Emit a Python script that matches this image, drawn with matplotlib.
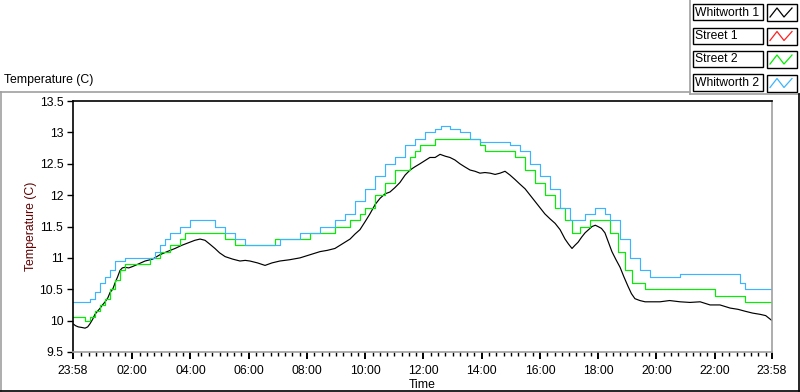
"""Daily temperature trace, four sensors, LabVIEW-style panel."""

import matplotlib
matplotlib.use("Agg")
import matplotlib.pyplot as plt
from matplotlib.lines import Line2D
from matplotlib.patches import Rectangle
import numpy as np

plt.rcParams["font.family"] = ["Liberation Sans", "DejaVu Sans"]
plt.rcParams["font.size"] = 8.5

# clock hours (start 23:58 of the previous day = -0.033) and temperatures (C)
w1_hours = [-0.033, 0.05, 0.15, 0.28, 0.38, 0.47, 0.55, 0.64, 0.72, 0.81, 0.9,
            0.98, 1.07, 1.16, 1.24, 1.33, 1.41, 1.5, 1.58, 1.66, 1.75, 1.88,
            2.0, 2.2, 2.44, 2.7, 2.95, 3.2, 3.47, 3.7, 3.98, 4.15, 4.33, 4.5,
            4.66, 4.84, 5.0, 5.19, 5.45, 5.7, 5.88, 6.04, 6.3, 6.56, 6.8,
            7.07, 7.4, 7.76, 8.1, 8.45, 8.7, 8.96, 9.2, 9.48, 9.65, 9.82,
            10.0, 10.16, 10.34, 10.51, 10.68, 10.85, 11.02, 11.19, 11.37,
            11.54, 11.7, 11.88, 12.05, 12.22, 12.4, 12.57, 12.75, 12.91, 13.08,
            13.25, 13.42, 13.6, 13.77, 13.94, 14.11, 14.29, 14.46, 14.63, 14.8,
            14.97, 15.14, 15.3, 15.49, 15.66, 15.83, 16.0, 16.17, 16.35, 16.52,
            16.69, 16.86, 16.98, 17.1, 17.2, 17.31, 17.43, 17.55, 17.67, 17.79,
            17.9, 17.99, 18.11, 18.23, 18.35, 18.47, 18.6, 18.75, 18.88, 19.02,
            19.14, 19.26, 19.43, 19.61, 19.85, 20.12, 20.45, 20.81, 21.15,
            21.5, 21.84, 22.18, 22.53, 22.8, 23.04, 23.3, 23.56, 23.75, 23.967]
w1_temps = [9.95, 9.92, 9.9, 9.89, 9.88, 9.9, 9.95, 10.02, 10.1, 10.15, 10.2,
            10.25, 10.3, 10.36, 10.45, 10.5, 10.6, 10.7, 10.8, 10.84, 10.85,
            10.84, 10.86, 10.9, 10.95, 10.98, 11.05, 11.1, 11.15, 11.2, 11.25,
            11.28, 11.3, 11.28, 11.22, 11.15, 11.08, 11.02, 10.98, 10.95,
            10.96, 10.95, 10.92, 10.88, 10.92, 10.95, 10.97, 11.0, 11.05,
            11.1, 11.12, 11.15, 11.22, 11.3, 11.38, 11.45, 11.58, 11.7, 11.85,
            11.95, 12.02, 12.05, 12.12, 12.2, 12.32, 12.4, 12.45, 12.5, 12.55,
            12.6, 12.6, 12.65, 12.62, 12.6, 12.56, 12.5, 12.45, 12.4, 12.38,
            12.35, 12.36, 12.35, 12.33, 12.35, 12.38, 12.32, 12.25, 12.18,
            12.1, 12.0, 11.9, 11.8, 11.7, 11.62, 11.55, 11.45, 11.3, 11.22,
            11.15, 11.2, 11.25, 11.33, 11.4, 11.45, 11.5, 11.52, 11.5, 11.47,
            11.4, 11.25, 11.1, 10.98, 10.85, 10.7, 10.55, 10.43, 10.35, 10.32,
            10.3, 10.3, 10.3, 10.32, 10.3, 10.29, 10.3, 10.25, 10.25, 10.2,
            10.18, 10.15, 10.12, 10.1, 10.08, 10.0]

# Street 1 has no visible trace in the chart
s1_hours = []
s1_temps = []

s2_hours = [-0.033, 0.38, 0.55, 0.72, 0.9, 1.07, 1.24, 1.41, 1.58, 1.75, 2.61,
            2.95, 3.3, 3.64, 3.81, 5.19, 5.53, 6.9, 8.1, 8.96, 9.48, 9.82,
            10.0, 10.34, 10.68, 11.02, 11.54, 11.71, 11.88, 12.4, 13.94, 14.11,
            15.14, 15.49, 15.83, 16.17, 16.52, 16.86, 17.1, 17.38, 17.72, 18.4,
            18.68, 18.92, 19.16, 19.6, 22.0, 23.04, 23.967]
s2_temps = [10.05, 10.0, 10.05, 10.15, 10.25, 10.35, 10.5, 10.65, 10.8, 10.9,
            11.0, 11.1, 11.2, 11.3, 11.4, 11.3, 11.2, 11.3, 11.4, 11.5, 11.6,
            11.7, 11.8, 12.0, 12.2, 12.4, 12.6, 12.7, 12.8, 12.9, 12.8, 12.7,
            12.6, 12.4, 12.2, 12.0, 11.8, 11.6, 11.4, 11.5, 11.6, 11.4, 11.1,
            10.8, 10.6, 10.5, 10.4, 10.3, 10.3]

w2_hours = [-0.033, 0.55, 0.72, 0.9, 1.07, 1.24, 1.41, 1.75, 2.78, 2.95, 3.13,
            3.3, 3.64, 3.98, 4.84, 5.19, 5.53, 5.87, 7.07, 7.76, 8.45, 8.96,
            9.3, 9.65, 9.99, 10.34, 10.68, 11.02, 11.37, 11.71, 12.05, 12.4,
            12.6, 12.91, 13.25, 13.6, 13.94, 14.97, 15.3, 15.66, 16.0, 16.35,
            16.69, 17.03, 17.55, 17.89, 18.23, 18.41, 18.75, 19.09, 19.43,
            19.78, 20.81, 22.87, 23.04, 23.967]
w2_temps = [10.3, 10.35, 10.45, 10.6, 10.7, 10.8, 10.95, 11.0, 11.1, 11.2,
            11.3, 11.4, 11.5, 11.6, 11.5, 11.4, 11.3, 11.2, 11.3, 11.4, 11.5,
            11.6, 11.7, 11.9, 12.1, 12.3, 12.5, 12.6, 12.8, 12.9, 13.0, 13.05,
            13.1, 13.05, 13.0, 12.9, 12.85, 12.8, 12.7, 12.5, 12.3, 12.1, 11.8,
            11.6, 11.7, 11.8, 11.7, 11.6, 11.3, 11.0, 10.8, 10.7, 10.75, 10.6,
            10.5, 10.5]

series_names = ["Whitworth 1", "Street 1", "Street 2", "Whitworth 2"]
series_colors = ["#000000", "#ff2020", "#00f000", "#3cb4ff"]

x_tick_minutes = [-2, 120, 240, 360, 480, 600, 720, 840, 960, 1080, 1200,
                  1320, 1438]
x_tick_labels = ["23:58", "02:00", "04:00", "06:00", "08:00", "10:00", "12:00",
                 "14:00", "16:00", "18:00", "20:00", "22:00", "23:58"]
y_ticks = [9.5, 10, 10.5, 11, 11.5, 12, 12.5, 13, 13.5]

W, H = 800, 392


def fx(px):
    return px / W


def fy(py):
    return 1 - py / H


fig = plt.figure(figsize=(8, 3.92), dpi=100)
ax = fig.add_axes([fx(73), fy(352), fx(772) - fx(73), fy(101) - fy(352)])

ax.plot(np.array(w1_hours) * 60, w1_temps, color=series_colors[0], lw=0.85)
ax.plot(np.array(s1_hours) * 60, s1_temps, color=series_colors[1], lw=0.85)
ax.step(np.array(s2_hours) * 60, s2_temps, where="post",
        color=series_colors[2], lw=0.85)
ax.step(np.array(w2_hours) * 60, w2_temps, where="post",
        color=series_colors[3], lw=0.85)

ax.set_xlim(-2, 1438)
ax.set_ylim(9.5, 13.5)
ax.set_xticks(x_tick_minutes)
ax.set_xticklabels(x_tick_labels)
minor = [m for m in range(15, 1438, 15) if m % 120 != 0]
ax.set_xticks(minor, minor=True)
ax.set_yticks(y_ticks)
ax.set_yticklabels([f"{v:g}" for v in y_ticks])
ax.tick_params(axis="x", which="major", length=5, width=1.4, pad=4,
               labelsize=8.8)
ax.tick_params(axis="x", which="minor", length=3, width=1)
ax.tick_params(axis="y", length=4, width=1, pad=3, labelsize=8.8)

for side, col in [("left", "black"), ("top", "black"),
                  ("right", "#a0a0a0"), ("bottom", "#a0a0a0")]:
    ax.spines[side].set_color(col)
    ax.spines[side].set_linewidth(1.2)

ax.set_ylabel("Temperature (C)", color="#600000", fontsize=8.8, labelpad=2)
ax.set_xlabel("Time", fontsize=8.8, labelpad=2)

# panel frame
frame_lines = [
    ((0, 690), (92, 92), "#a0a0a0"),
    ((690, 690), (0, 94), "#a0a0a0"),
    ((690, 800), (94, 94), "#a0a0a0"),
    ((1, 1), (92, 391), "#a0a0a0"),
    ((0, 800), (391, 391), "black"),
    ((798.5, 798.5), (94, 391), "black"),
]
for xs, ys, col in frame_lines:
    fig.add_artist(Line2D([fx(x) for x in xs], [fy(y) for y in ys],
                          color=col, lw=1.2))

fig.text(fx(4), fy(80), "Temperature (C)", fontsize=8.8, va="center",
         ha="left")

# legend boxes
for i, (name, col) in enumerate(zip(series_names, series_colors)):
    top = 4 + i * 23.5
    fig.add_artist(Rectangle((fx(693), fy(top + 16)), fx(763) - fx(693),
                             fy(top) - fy(top + 16), fill=False,
                             edgecolor="black", lw=1))
    fig.text(fx(695), fy(top + 8.5), name, fontsize=8.7, va="center",
             ha="left")
    fig.add_artist(Rectangle((fx(767), fy(top + 17)), fx(797) - fx(767),
                             fy(top) - fy(top + 17), fill=False,
                             edgecolor="black", lw=1))
    zx = [770, 777, 784, 792]
    zy = [top + 13, top + 4, top + 13, top + 4]
    fig.add_artist(Line2D([fx(x) for x in zx], [fy(y) for y in zy],
                          color=col, lw=0.9))

fig.savefig("out.png", dpi=100)
